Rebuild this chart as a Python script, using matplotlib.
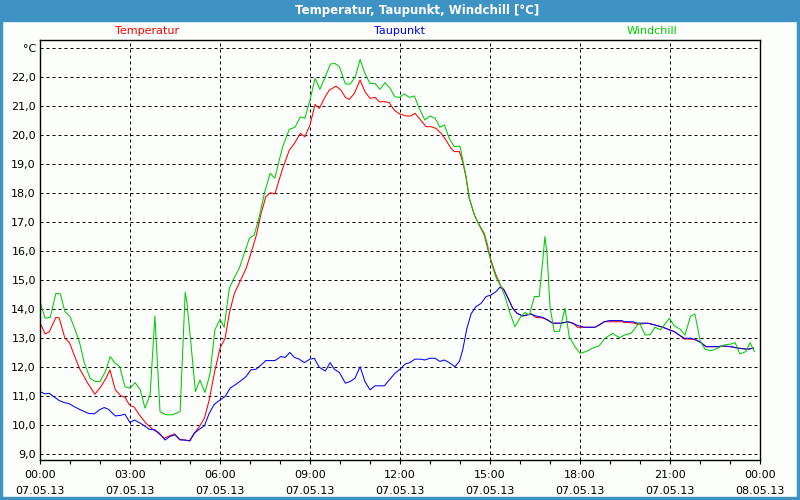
import matplotlib
matplotlib.use("Agg")
from matplotlib import pyplot as plt
from matplotlib.patches import Rectangle

# hours since 07.05.13 00:00
t_temp = [0, 0.17, 0.31, 0.53, 0.64, 0.83, 0.98, 1.31, 1.59, 1.83, 2.03, 2.2, 2.33, 2.51, 2.7,
          2.83, 2.98, 3.14, 3.31, 3.53, 3.76, 3.92, 4.14, 4.31, 4.48, 4.64, 4.81, 4.98, 5.14,
          5.31, 5.48, 5.64, 5.81, 6.0, 6.17, 6.31, 6.48, 6.7, 6.87, 7.03, 7.2, 7.37, 7.53,
          7.68, 7.83, 7.92, 8.09, 8.31, 8.48, 8.68, 8.83, 9.0, 9.17, 9.31, 9.48, 9.64, 9.87,
          10.03, 10.18, 10.31, 10.48, 10.67, 10.83, 11.0, 11.17, 11.31, 11.48, 11.64, 11.81,
          11.98, 12.2, 12.37, 12.5, 12.64, 12.87, 13.03, 13.2, 13.37, 13.53, 13.7, 13.81,
          13.98, 14.09, 14.2, 14.31, 14.48, 14.64, 14.81, 14.92, 15.03, 15.2, 15.37, 15.46,
          15.59, 15.76, 15.9, 16.09, 16.37, 16.53, 16.76, 16.92, 17.09, 17.37, 17.59, 17.76,
          17.92, 18.14, 18.5, 18.64, 18.81, 18.98, 19.39, 19.48, 19.76, 19.92, 20.26, 20.42,
          20.59, 20.76, 20.98, 21.14, 21.31, 21.48, 21.7, 21.87, 22.03, 22.2, 22.59, 22.76,
          23.03, 23.26, 23.59, 23.78]
temp = [13.54, 13.15, 13.22, 13.72, 13.70, 13.0, 12.85, 11.97, 11.45, 11.07, 11.33, 11.62,
        11.91, 11.22, 11.01, 10.97, 10.70, 10.62, 10.36, 10.07, 9.86, 9.75, 9.55, 9.63, 9.70,
        9.52, 9.49, 9.46, 9.72, 9.95, 10.24, 10.87, 11.79, 12.66, 13.0, 13.86, 14.55, 15.03,
        15.41, 15.93, 16.51, 17.31, 17.89, 18.02, 17.98, 18.29, 18.86, 19.49, 19.72, 20.07,
        19.95, 20.36, 21.07, 20.93, 21.28, 21.56, 21.70, 21.56, 21.31, 21.24, 21.45, 21.91,
        21.51, 21.28, 21.31, 21.16, 21.16, 21.13, 20.87, 20.74, 20.67, 20.67, 20.76, 20.59,
        20.30, 20.30, 20.24, 20.07, 19.84, 19.55, 19.44, 19.44, 19.09, 18.57, 17.83, 17.25,
        16.91, 16.56, 16.10, 15.70, 15.18, 14.78, 14.69, 14.41, 14.03, 13.86, 13.77, 13.84,
        13.72, 13.70, 13.63, 13.52, 13.52, 13.57, 13.52, 13.38, 13.38, 13.38, 13.46, 13.57,
        13.57, 13.57, 13.55, 13.53, 13.48, 13.52, 13.48, 13.43, 13.38, 13.29, 13.23, 13.11,
        12.97, 12.97, 12.94, 12.85, 12.71, 12.71, 12.72, 12.71, 12.66, 12.62, 12.66]

t_dew = [0, 0.17, 0.31, 0.48, 0.64, 0.81, 0.98, 1.14, 1.31, 1.48, 1.61, 1.81, 1.98, 2.14,
         2.28, 2.51, 2.68, 2.83, 3.0, 3.14, 3.31, 3.48, 3.64, 3.83, 3.98, 4.17, 4.33, 4.5,
         4.67, 4.83, 5.0, 5.14, 5.31, 5.48, 5.64, 5.81, 6.0, 6.17, 6.34, 6.53, 6.7, 6.87,
         7.03, 7.2, 7.37, 7.53, 7.83, 8.03, 8.17, 8.33, 8.48, 8.64, 8.81, 9.0, 9.14, 9.31,
         9.51, 9.67, 9.81, 9.98, 10.18, 10.34, 10.5, 10.67, 10.83, 11.0, 11.17, 11.48, 11.64,
         11.83, 12.0, 12.17, 12.33, 12.5, 12.67, 12.83, 13.0, 13.17, 13.33, 13.48, 13.64,
         13.83, 13.98, 14.09, 14.23, 14.37, 14.53, 14.7, 14.87, 15.03, 15.2, 15.33, 15.46,
         15.59, 15.76, 15.9, 16.09, 16.37, 16.53, 16.76, 16.92, 17.09, 17.37, 17.59, 17.76,
         17.92, 18.14, 18.5, 18.64, 18.81, 18.98, 19.39, 19.48, 19.76, 19.92, 20.26, 20.42,
         20.59, 20.76, 20.98, 21.14, 21.31, 21.48, 21.7, 21.87, 22.03, 22.2, 22.59, 22.76,
         23.03, 23.26, 23.59, 23.78]
dew = [11.16, 11.08, 11.10, 10.97, 10.85, 10.78, 10.74, 10.64, 10.55, 10.47, 10.41, 10.39,
       10.53, 10.61, 10.55, 10.32, 10.34, 10.38, 10.09, 10.18, 10.09, 9.98, 9.86, 9.84, 9.72,
       9.49, 9.61, 9.67, 9.49, 9.49, 9.46, 9.72, 9.86, 9.98, 10.41, 10.72, 10.87, 10.99,
       11.28, 11.41, 11.54, 11.68, 11.91, 11.93, 12.08, 12.23, 12.23, 12.37, 12.34, 12.51,
       12.34, 12.28, 12.16, 12.28, 12.31, 12.0, 11.87, 12.16, 11.93, 11.82, 11.45, 11.51,
       11.62, 12.02, 11.51, 11.22, 11.36, 11.36, 11.56, 11.79, 11.93, 12.11, 12.16, 12.28,
       12.28, 12.25, 12.31, 12.31, 12.20, 12.25, 12.16, 12.02, 12.20, 12.60, 13.34, 13.84,
       14.09, 14.20, 14.44, 14.49, 14.61, 14.76, 14.67, 14.41, 14.03, 13.86, 13.77, 13.84,
       13.77, 13.72, 13.63, 13.52, 13.52, 13.57, 13.52, 13.44, 13.38, 13.38, 13.46, 13.57,
       13.61, 13.61, 13.57, 13.57, 13.52, 13.52, 13.48, 13.43, 13.38, 13.29, 13.23, 13.11,
       13.0, 13.0, 12.94, 12.85, 12.71, 12.71, 12.74, 12.71, 12.66, 12.62, 12.66]

t_wc = [0, 0.17, 0.34, 0.53, 0.68, 0.83, 1.0, 1.17, 1.31, 1.48, 1.67, 1.83, 2.0, 2.18, 2.34,
        2.5, 2.66, 2.83, 3.0, 3.17, 3.34, 3.5, 3.67, 3.83, 4.0, 4.2, 4.42, 4.67, 4.84, 4.9,
        5.03, 5.18, 5.33, 5.5, 5.67, 5.83, 6.0, 6.14, 6.31, 6.48, 6.64, 6.81, 6.98, 7.14,
        7.31, 7.48, 7.67, 7.83, 7.92, 8.09, 8.31, 8.5, 8.68, 8.83, 9.0, 9.17, 9.33, 9.51,
        9.68, 9.83, 9.98, 10.18, 10.34, 10.51, 10.67, 10.83, 11.0, 11.17, 11.33, 11.5, 11.67,
        11.83, 11.98, 12.14, 12.31, 12.48, 12.64, 12.83, 13.0, 13.17, 13.33, 13.48, 13.64,
        13.81, 14.0, 14.09, 14.2, 14.31, 14.48, 14.64, 14.81, 14.92, 15.03, 15.2, 15.37,
        15.5, 15.67, 15.83, 16.03, 16.17, 16.31, 16.48, 16.64, 16.76, 16.83, 16.9, 17.0,
        17.14, 17.31, 17.5, 17.64, 17.83, 18.0, 18.2, 18.42, 18.64, 18.83, 19.09, 19.31,
        19.48, 19.7, 19.98, 20.17, 20.34, 20.5, 20.68, 20.98, 21.14, 21.34, 21.5, 21.68,
        21.83, 22.01, 22.17, 22.37, 22.59, 22.81, 23.03, 23.17, 23.33, 23.53, 23.67, 23.81]
wc = [14.26, 13.69, 13.72, 14.55, 14.53, 13.92, 13.75, 13.29, 12.89, 12.14, 11.62, 11.51,
      11.51, 11.85, 12.37, 12.14, 12.02, 11.33, 11.28, 11.47, 11.22, 10.59, 11.05, 13.77,
      10.47, 10.36, 10.36, 10.47, 14.59, 14.21, 12.83, 11.16, 11.56, 11.13, 11.79, 13.29,
      13.66, 13.38, 14.72, 15.10, 15.41, 15.93, 16.45, 16.56, 17.20, 18.0, 18.69, 18.52,
      18.92, 19.61, 20.21, 20.28, 20.64, 20.59, 21.22, 21.97, 21.59, 22.02, 22.46, 22.48,
      22.37, 21.77, 21.77, 22.02, 22.62, 22.14, 21.79, 21.79, 21.59, 21.82, 21.62, 21.33,
      21.31, 21.43, 21.31, 21.36, 20.93, 20.53, 20.67, 20.59, 20.28, 20.36, 19.90, 19.61,
      19.63, 19.15, 18.57, 17.83, 17.25, 16.91, 16.62, 16.22, 15.64, 15.10, 14.78, 14.44,
      13.86, 13.40, 13.75, 13.89, 13.80, 14.44, 14.44, 15.70, 16.51, 15.93, 14.09, 13.23,
      13.23, 14.03, 13.06, 12.71, 12.48, 12.54, 12.66, 12.74, 13.0, 13.17, 13.02, 13.11,
      13.17, 13.54, 13.11, 13.13, 13.38, 13.29, 13.69, 13.43, 13.31, 13.11, 13.75, 13.84,
      12.89, 12.62, 12.57, 12.66, 12.77, 12.80, 12.85, 12.46, 12.54, 12.85, 12.54]

x_ticks = [0, 3, 6, 9, 12, 15, 18, 21, 24]
x_labels = ["00:00\n07.05.13", "03:00\n07.05.13", "06:00\n07.05.13", "09:00\n07.05.13",
            "12:00\n07.05.13", "15:00\n07.05.13", "18:00\n07.05.13", "21:00\n07.05.13",
            "00:00\n08.05.13"]
y_ticks = list(range(9, 24))
y_labels = ["%d,0" % v for v in range(9, 23)] + ["°C"]

frame = "#3f92c4"
bg = "#fcfefc"
fs = 8

fig = plt.figure(figsize=(8, 5), dpi=100, facecolor=bg)
# window frame and title bar
fig.patches.append(Rectangle((0, 1 - 21 / 500), 1, 21 / 500, transform=fig.transFigure,
                             color=frame, zorder=0))
fig.patches.append(Rectangle((0, 0), 2 / 800, 1, transform=fig.transFigure, color=frame, zorder=0))
fig.patches.append(Rectangle((1 - 3 / 800, 0), 3 / 800, 1, transform=fig.transFigure,
                             color=frame, zorder=0))
fig.patches.append(Rectangle((0, 0), 1, 3 / 500, transform=fig.transFigure, color=frame, zorder=0))
fig.text(417 / 800, 1 - 10.5 / 500, "Temperatur, Taupunkt, Windchill [°C]", color="white",
         fontsize=fs + 0.5, fontweight="bold", ha="center", va="center")

fig.text(147 / 800, 1 - 31 / 500, "Temperatur", color="#ff0000", fontsize=fs, ha="center", va="center")
fig.text(399 / 800, 1 - 31 / 500, "Taupunkt", color="#0000ff", fontsize=fs, ha="center", va="center")
fig.text(652 / 800, 1 - 31 / 500, "Windchill", color="#00cc00", fontsize=fs, ha="center", va="center")

ax = fig.add_axes([40 / 800, 40 / 500, 720 / 800, 420 / 500])
ax.set_facecolor(bg)
ax.plot(t_temp, temp, color="#ff0000", lw=0.75)
ax.plot(t_dew, dew, color="#0000ff", lw=0.75)
ax.plot(t_wc, wc, color="#00cc00", lw=0.75)

ax.set_xlim(0, 24)
ax.set_ylim(8.80, 23.29)
ax.set_xticks(x_ticks)
ax.set_xticklabels(x_labels, fontsize=fs, linespacing=1.8)
ax.set_xticks(range(25), minor=True)
ax.set_yticks(y_ticks)
ax.set_yticklabels(y_labels, fontsize=fs)
ax.tick_params(axis="x", which="both", direction="out", length=3, width=0.8, pad=4)
ax.tick_params(axis="y", length=0, pad=3)
ax.grid(True, which="major", color="black", linestyle=(0, (3, 3)), linewidth=0.72)
for s in ax.spines.values():
    s.set_linewidth(1.0)

plt.savefig("out.png", dpi=100, facecolor=bg)
